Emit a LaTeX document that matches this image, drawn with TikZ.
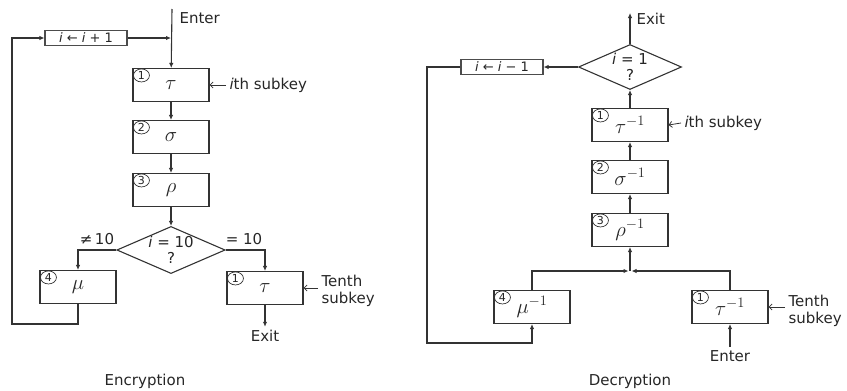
\documentclass[tikz,border=0pt]{standalone}
\usepackage{fontspec}
\setmainfont{DejaVu Sans}
\usetikzlibrary{arrows.meta,positioning,shapes.geometric,calc}
\newcommand{\stepno}[2]{\node[num] (#1n) at ($(#1.north west)+(9,7.5)$) {#2};}

\begin{document}
\begin{tikzpicture}[x=1pt,y=-1pt,font=\fontsize{15}{17}\selectfont,
  >={Latex[length=5pt,width=4.5pt]},text=black!85,
  blk/.style={draw=black!80,line width=1.1pt,minimum width=76pt,minimum height=33pt,
              inner sep=0pt,fill=white,font=\fontsize{21}{23}\selectfont},
  upd/.style={draw=black!70,line width=1.2pt,
              minimum width=82pt,minimum height=15pt,inner sep=1pt,
              font=\fontsize{13}{13}\selectfont},
  ask/.style={diamond,draw=black!80,line width=1.1pt,aspect=2.3,minimum width=103pt,
              minimum height=45pt,inner sep=0pt,align=center},
  num/.style={ellipse,draw=black!80,line width=0.7pt,inner sep=0.3pt,minimum width=16pt,
              minimum height=13pt,font=\fontsize{11}{11}\selectfont},
  fl/.style={->,line width=1.1pt,black!80},
  kf/.style={-{Straight Barb[length=3pt]},line width=0.8pt,black!80}]
\useasboundingbox (0,0) rectangle (847,391);
% ---------------- encryption
\coordinate (ein) at (172,9);
\node[anchor=west] (entE) at (176,18) {Enter};
\node[upd] (inc) at (86,38) {\textit{i} ← \textit{i} + 1};
\node[blk] (t1) at (171,85) {$\tau$};
\node[blk] (s1) at (171,137) {$\sigma$};
\node[blk] (r1) at (171,190) {$\rho$};
\node[ask] (d1) at (171,250) {\textit{i} = 10\\[-1pt]?};
\node[blk] (m1) at (78,287) {$\mu$};
\node[blk] (t10) at (265,288) {$\tau$};
\node (exE) at (265,336) {Exit};
\node[anchor=west] (k1) at (226,85) {\textit{i}th subkey};
\node[anchor=west,align=left] (k10) at (318,291) {Tenth\\subkey};
\node (ne) at (97,239) {≠\,10};
\node (eq) at (244,239) {= 10};
\node (capE) at (145,381) {Encryption};
\coordinate (lpE) at (12,324);
\stepno{t1}{1} \stepno{s1}{2} \stepno{r1}{3} \stepno{m1}{4} \stepno{t10}{1}
\draw[fl] (ein) -- (t1);
\draw[fl] (inc.east) -- (inc.east -| t1.north);
\foreach \x/\y in {t1/s1,s1/r1,r1/d1} \draw[fl] (\x) -- (\y);
\draw[fl] (d1.west) -| (m1.north);
\draw[fl] (d1.east) -| (t10.north);
\draw[fl] (t10) -- (exE);
\draw[fl] (m1.south) |- (lpE) |- (inc.west);
\draw[kf] (k1.west) -- (t1.east);
\draw[kf] (t10.east -| k10.west) -- (t10.east);
% ---------------- decryption
\node[ask] (d2) at (630,67) {\textit{i} = 1\\[-1pt]?};
\coordinate (dout) at (630,13);
\node[anchor=west] (exD) at (633,19) {Exit};
\node[upd] (dcr) at (502,67) {\textit{i} ← \textit{i} − 1};
\node[blk] (t2) at (630,125) {$\tau^{-1}$};
\node[blk] (s2) at (630,177) {$\sigma^{-1}$};
\node[blk] (r2) at (630,230) {$\rho^{-1}$};
\coordinate (jn) at (630,271);
\node[blk] (m2) at (532,307) {$\mu^{-1}$};
\node[blk] (t20) at (730,307) {$\tau^{-1}$};
\node (enD) at (730,356) {Enter};
\node[anchor=west] (k2) at (681,123) {\textit{i}th subkey};
\node[anchor=west,align=left] (k20) at (785,311) {Tenth\\subkey};
\node (capD) at (630,381) {Decryption};
\coordinate (lpD) at (427,343);
\stepno{t2}{1} \stepno{s2}{2} \stepno{r2}{3} \stepno{m2}{4} \stepno{t20}{1}
\draw[fl] (d2.north) -- (dout);
\draw[fl] (d2.west) -- (dcr.east);
\draw[fl] (dcr.west) -| (lpD) -| (m2.south);
\foreach \x/\y in {r2/s2,s2/t2,t2/d2} \draw[fl] (\x) -- (\y);
\draw[fl] (jn) -- (r2);
\draw[fl] (m2.north) |- ([xshift=-1.5]jn);
\draw[fl] (t20.north) |- ([xshift=1.5]jn);
\draw[fl] (enD) -- (t20);
\draw[kf] (k2.west) -- (t2.east);
\draw[kf] (t20.east -| k20.west) -- (t20.east);
\end{tikzpicture}
\end{document}
